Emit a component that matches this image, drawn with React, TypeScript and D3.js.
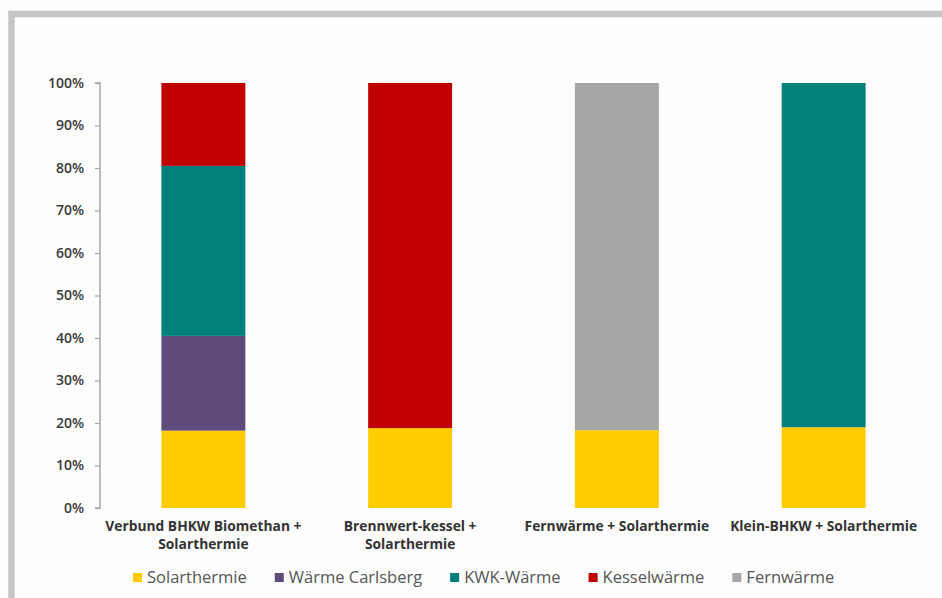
import React, { useEffect, useRef } from "react";
import * as d3 from "d3";

const categories = [
  ["Verbund BHKW Biomethan +", "Solarthermie"],
  ["Brennwert-kessel +", "Solarthermie"],
  ["Fernwärme + Solarthermie"],
  ["Klein-BHKW + Solarthermie"],
];
const seriesNames = ["Solarthermie", "Wärme Carlsberg", "KWK-Wärme", "Kesselwärme", "Fernwärme"];
const seriesColors = ["#FFCC00", "#5E4A7B", "#007F7B", "#C00000", "#A6A6A6"];
const solarthermie = [0.182, 0.188, 0.183, 0.19];
const waermeCarlsberg = [0.223, 0, 0, 0];
const kwkWaerme = [0.4, 0, 0, 0.81];
const kesselwaerme = [0.195, 0.812, 0, 0];
const fernwaerme = [0, 0, 0.817, 0];
const yTicks = [0, 0.1, 0.2, 0.3, 0.4, 0.5, 0.6, 0.7, 0.8, 0.9, 1.0];

const W = 942;
const H = 598;

export default function App() {
  const ref = useRef<SVGSVGElement>(null);
  useEffect(() => {
    document.body.style.margin = "0";
    const svg = d3.select(ref.current);
    svg.selectAll("*").remove();

    // frame
    svg.append("rect").attr("x", 0).attr("y", 0).attr("width", W).attr("height", H).attr("fill", "#fdfdfd");
    svg.append("path")
      .attr("d", `M11.5,${H} L11.5,14 L${W},14`)
      .attr("fill", "none")
      .attr("stroke", "#c6c6c6")
      .attr("stroke-width", 6.5);

    const plotLeft = 100, plotRight = 927, plotTop = 83, plotBottom = 508;
    const idx = categories.map((_, i) => i);
    const x = d3.scaleBand<number>().domain(idx).range([plotLeft, plotRight]).paddingInner(0.594).paddingOuter(0.297);
    const y = d3.scaleLinear().domain([0, 1]).range([plotBottom, plotTop]);

    const rows = idx.map((i) => ({
      i,
      s0: solarthermie[i],
      s1: waermeCarlsberg[i],
      s2: kwkWaerme[i],
      s3: kesselwaerme[i],
      s4: fernwaerme[i],
    }));
    const stack = d3.stack<any>().keys(["s0", "s1", "s2", "s3", "s4"]);
    const stacked = stack(rows);

    const g = svg.append("g");
    stacked.forEach((layer, k) => {
      g.append("g")
        .attr("fill", seriesColors[k])
        .selectAll("rect")
        .data(layer)
        .join("rect")
        .attr("x", (d: any) => x(d.data.i)!)
        .attr("width", x.bandwidth())
        .attr("y", (d: any) => y(d[1]))
        .attr("height", (d: any) => Math.max(0, y(d[0]) - y(d[1])));
    });

    // y axis
    const axis = svg.append("g")
      .attr("transform", `translate(${plotLeft},0)`)
      .call(d3.axisLeft(y).tickValues(yTicks).tickFormat(d3.format(".0%")).tickSize(5).tickPadding(11));
    axis.select(".domain").attr("stroke", "#a6a6a6").attr("stroke-width", 1.5).attr("d", `M-5,${plotTop}H0V${plotBottom}H-5`);
    axis.selectAll(".tick line").attr("stroke", "#a6a6a6").attr("stroke-width", 1.2);
    axis.selectAll(".tick text")
      .attr("fill", "#3a3a3a")
      .attr("font-family", "'Open Sans', sans-serif")
      .attr("font-weight", 600)
      .attr("font-size", 14);

    // category labels
    categories.forEach((lines, i) => {
      const cx = x(i)! + x.bandwidth() / 2;
      const t = svg.append("text")
        .attr("text-anchor", "middle")
        .attr("font-family", "'Open Sans', sans-serif")
        .attr("font-weight", 700)
        .attr("font-size", 13.8)
        .attr("fill", "#333333");
      lines.forEach((ln, j) => {
        t.append("tspan").attr("x", cx).attr("y", 531 + j * 18).text(ln);
      });
    });

    // legend
    let lx = 133;
    const ly = 577;
    seriesNames.forEach((name, k) => {
      svg.append("rect").attr("x", lx).attr("y", ly - 4).attr("width", 9).attr("height", 9).attr("fill", seriesColors[k]);
      const t = svg.append("text")
        .attr("x", lx + 14)
        .attr("y", ly + 6)
        .attr("font-family", "'Open Sans', sans-serif")
        .attr("font-size", 16.5)
        .attr("fill", "#555555")
        .text(name);
      const w = (t.node() as SVGTextElement).getComputedTextLength();
      lx = lx + 14 + w + 28;
    });
  }, []);
  return <svg ref={ref} width={W} height={H} style={{ display: "block" }} />;
}
